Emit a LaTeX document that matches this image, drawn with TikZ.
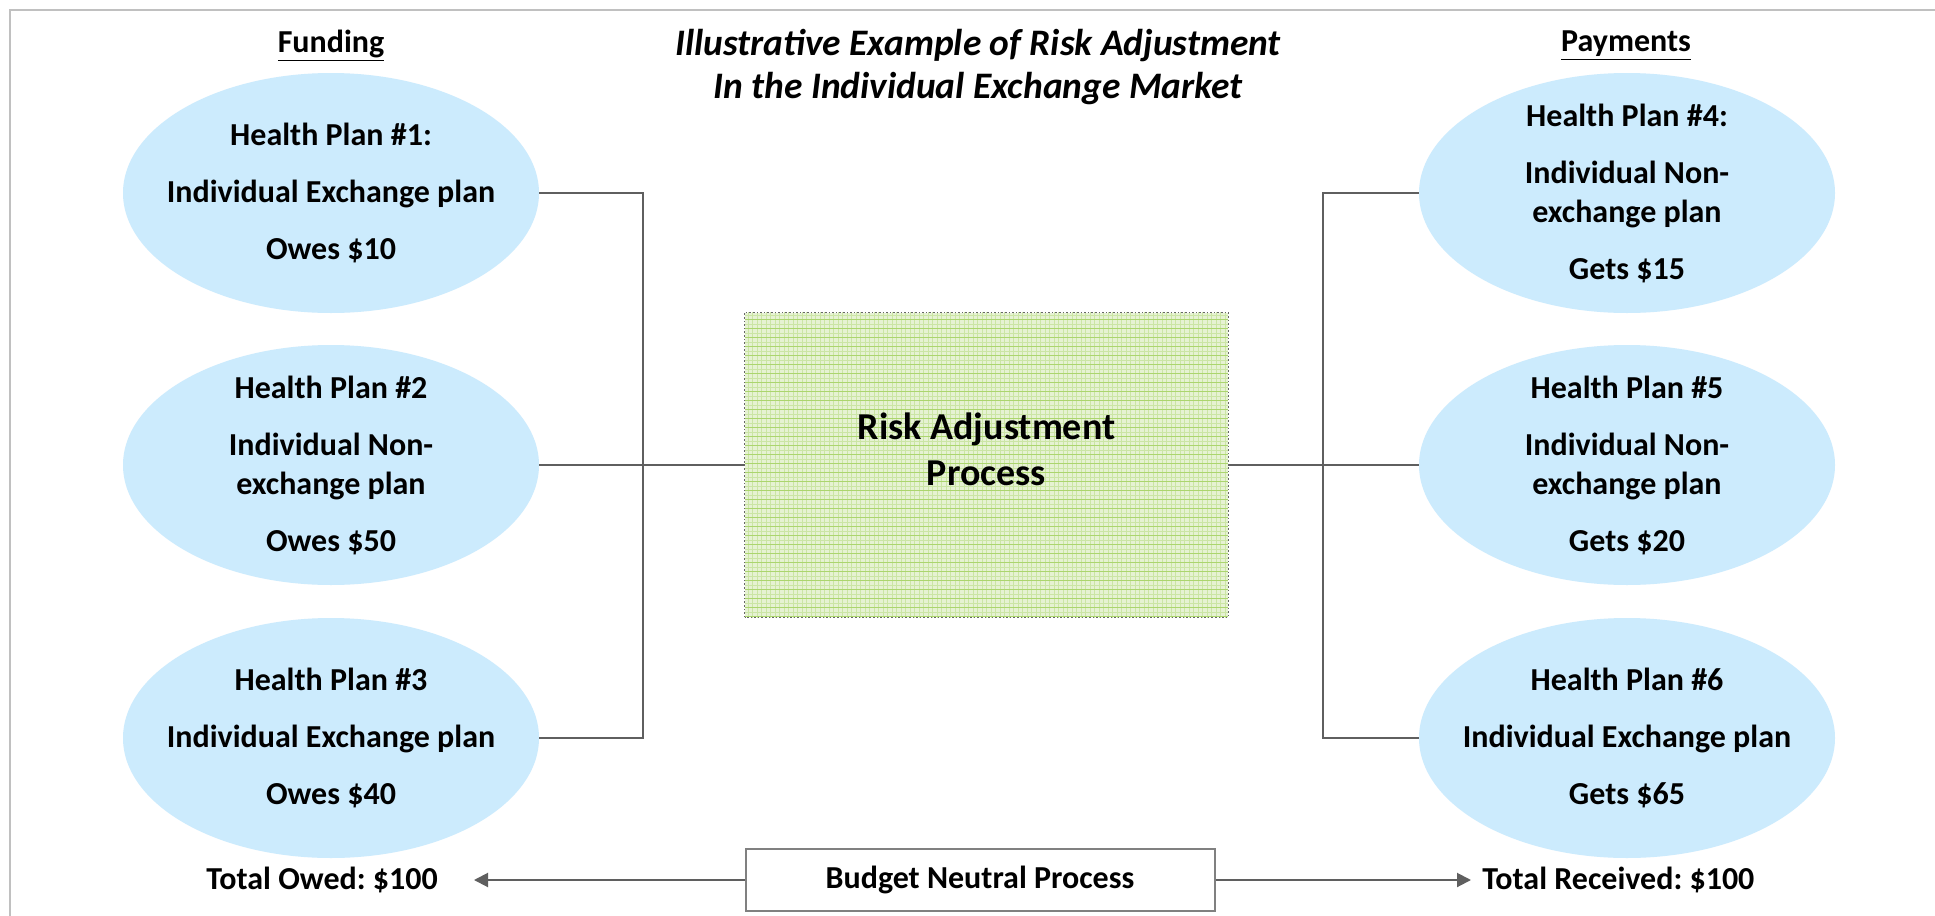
\documentclass[tikz,border=0pt]{standalone}
\usepackage{fontspec}
\setmainfont{Carlito}
\frenchspacing
\usetikzlibrary{shapes.geometric,arrows.meta}
\definecolor{ellblue}{HTML}{CCEBFD}
\definecolor{lineg}{HTML}{5F5F5F}
\definecolor{frameg}{HTML}{C0C0C0}
\definecolor{grnfill}{HTML}{E6F2D3}
\definecolor{grnfine}{HTML}{CBE5A5}
\definecolor{grnline}{HTML}{ABD56E}
\newcommand{\thickul}[1]{\underline{#1}}
\begin{document}
\begin{tikzpicture}[x=0.5pt,y=-0.5pt,
  plan/.style={ellipse, fill=ellblue, minimum width=208pt, minimum height=120pt, inner sep=0pt},
  plantext/.style={align=center, inner sep=0pt, font=\fontsize{16}{19.5}\selectfont\bfseries},
  head/.style={inner sep=0pt, font=\fontsize{16}{19.5}\selectfont\bfseries},
  titletext/.style={align=center, inner sep=0pt, font=\fontsize{18.7}{21.5}\selectfont\bfseries\itshape},
  conn/.style={draw=lineg, line width=1pt},
  arr/.style={draw=lineg, line width=1pt, -{Triangle[length=7pt,width=7pt]}},
  bottomtext/.style={inner sep=0pt, font=\fontsize{16}{19.5}\selectfont\bfseries},
]
\useasboundingbox (0,0) rectangle (1935,916);
\fill[white] (0,0) rectangle (1935,916);
% frame
\draw[frameg, line width=1.3pt] (10,916) -- (10,10) -- (1935,10);

% headings
\node[head] (fund) at (331,46) {\thickul{Funding}};
\node[head] (pay) at (1626,46) {\thickul{Payments}};
\node[titletext] (ttl) at (978,67) {Illustrative Example of Risk Adjustment\\In the Individual Exchange Market};

% ellipses
\node[plan] (e1) at (331,193) {};
\node[plan] (e2) at (331,465) {};
\node[plan] (e3) at (331,738) {};
\node[plan] (e4) at (1627,193) {};
\node[plan] (e5) at (1627,465) {};
\node[plan] (e6) at (1627,738) {};

\node[plantext] (t1) at (e1) {Health Plan \#1:\\[9pt]Individual Exchange plan\\[9pt]Owes \$10};
\node[plantext] (t2) at (e2) {Health Plan \#2\\[9pt]Individual Non-\\exchange plan\\[9pt]Owes \$50};
\node[plantext] (t3) at (e3) {Health Plan \#3\\[9pt]Individual Exchange plan\\[9pt]Owes \$40};
\node[plantext] (t4) at (e4) {Health Plan \#4:\\[9pt]Individual Non-\\exchange plan\\[9pt]Gets \$15};
\node[plantext] (t5) at (e5) {Health Plan \#5\\[9pt]Individual Non-\\exchange plan\\[9pt]Gets \$20};
\node[plantext] (t6) at (e6) {Health Plan \#6\\[9pt]Individual Exchange plan\\[9pt]Gets \$65};

% central box
\node[fill=grnfill, minimum width=241.5pt, minimum height=152pt, inner sep=0pt] (ra) at (986.5,465) {};
\begin{scope}
  \clip (ra.south west) rectangle (ra.north east);
  \foreach \xx in {748,752.5,...,1228} \draw[grnfine, line width=0.45pt] (\xx,312) -- (\xx,618);
  \foreach \yy in {315,319.5,...,618} \draw[grnfine, line width=0.45pt] (745,\yy) -- (1228,\yy);
  \foreach \yy in {319.5,328.5,...,618} \draw[grnline, line width=0.6pt] (745,\yy) -- (1228,\yy);
\end{scope}
\draw[draw=gray!80!black, densely dotted, line width=0.8pt] (ra.south west) rectangle (ra.north east);
\node[align=center, inner sep=0pt, font=\fontsize{19}{23}\selectfont\bfseries] (rat) at ([yshift=8pt]ra.center) {Risk Adjustment\\Process};

% connectors
\coordinate (lj) at (643,465);
\coordinate (rj) at (1323,465);
\draw[conn] (e1.east) -| (lj);
\draw[conn] (e3.east) -| (lj);
\draw[conn] (e2.east) -- (ra.west);
\draw[conn] (e4.west) -| (rj);
\draw[conn] (e6.west) -| (rj);
\draw[conn] (ra.east) -- (e5.west);

% bottom
\node[draw=gray, line width=1pt, fill=white, minimum width=234.5pt, minimum height=31pt, inner sep=0pt, font=\fontsize{16}{19.5}\selectfont\bfseries] (bn) at (980,880) {Budget Neutral Process};
\node[bottomtext] (owed) at (322,880) {Total Owed: \$100};
\node[bottomtext, anchor=west] (rec) at (1482,880) {Total Received: \$100};
\coordinate (ltip) at (474,880);
\coordinate (rtip) at (1471,880);
\draw[arr] (bn.west) -- (ltip);
\draw[arr] (bn.east) -- (rtip);
\end{tikzpicture}
\end{document}
